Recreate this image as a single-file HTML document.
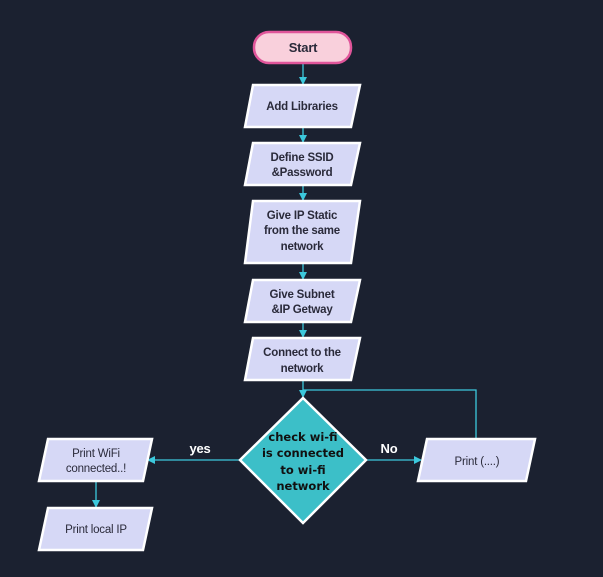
<!DOCTYPE html>
<html><head><style>
html,body{margin:0;padding:0;background:#1b2130;}
svg{display:block}
text{font-family:"Liberation Sans",Arial,sans-serif;font-size:11.5px;fill:#2a2a3a;text-anchor:middle;letter-spacing:-0.2px}
.b{font-weight:bold}
</style></head><body>
<svg width="603" height="577" viewBox="0 0 603 577">
<rect width="603" height="577" fill="#1b2130"/>
<defs><marker id="a" markerWidth="8" markerHeight="8" refX="7" refY="4" orient="auto" markerUnits="userSpaceOnUse"><path d="M0,0 L8,4 L0,8z" fill="#3cc8dc"/></marker></defs>
<g stroke="#3cc8dc" stroke-width="1.3" fill="none">
<line x1="303" y1="63" x2="303" y2="84" marker-end="url(#a)"/>
<line x1="303" y1="127" x2="303" y2="142" marker-end="url(#a)"/>
<line x1="303" y1="185" x2="303" y2="200" marker-end="url(#a)"/>
<line x1="303" y1="263" x2="303" y2="279" marker-end="url(#a)"/>
<line x1="303" y1="322" x2="303" y2="337" marker-end="url(#a)"/>
<line x1="303" y1="380" x2="303" y2="397" marker-end="url(#a)"/>
<polyline points="476,439 476,390 303,390"/>
<line x1="240" y1="460" x2="148" y2="460" marker-end="url(#a)"/>
<line x1="366" y1="460" x2="421" y2="460" marker-end="url(#a)"/>
<line x1="96" y1="481" x2="96" y2="507" marker-end="url(#a)"/>
</g>
<rect x="254" y="32" width="97" height="31" rx="15" fill="#f9d0dc" stroke="#e0559a" stroke-width="2.5"/>
<text x="303" y="52" class="b" style="font-size:13px">Start</text>
<g fill="#d6d8f6" stroke="#fff" stroke-width="2.5">
<polygon points="253,85 360,85 351,127 245,127"/>
<polygon points="253,143 360,143 351,185 245,185"/>
<polygon points="253,201 360,201 351,263 245,263"/>
<polygon points="253,280 360,280 351,322 245,322"/>
<polygon points="253,338 360,338 351,380 245,380"/>
<polygon points="48,439 152,439 143,481 39,481"/>
<polygon points="48,508 152,508 143,550 39,550"/>
<polygon points="427,439 535,439 526,481 418,481"/>
<polygon points="303,398 366,460 303,523 240,460" fill="#3cbfc8"/>
</g>
<text x="302" y="110" class="b">Add Libraries</text>
<text x="302" y="161" class="b">Define SSID</text>
<text x="302" y="176" class="b">&amp;Password</text>
<text x="302" y="219" class="b">Give IP Static</text>
<text x="302" y="234" class="b">from the same</text>
<text x="302" y="250" class="b">network</text>
<text x="302" y="298" class="b">Give Subnet</text>
<text x="302" y="313" class="b">&amp;IP Getway</text>
<text x="302" y="356" class="b">Connect to the</text>
<text x="302" y="372" class="b">network</text>
<text x="96" y="457">Print  WiFi</text>
<text x="96" y="472">connected..!</text>
<text x="96" y="533">Print  local IP</text>
<text x="477" y="465">Print (....)</text>
<text x="303" y="441" class="b" style="font-family:'DejaVu Sans',sans-serif;fill:#111;font-size:11.5px;letter-spacing:0">check wi-fi</text>
<text x="303" y="457" class="b" style="font-family:'DejaVu Sans',sans-serif;fill:#111;font-size:11.5px;letter-spacing:0">is connected</text>
<text x="303" y="474" class="b" style="font-family:'DejaVu Sans',sans-serif;fill:#111;font-size:11.5px;letter-spacing:0">to wi-fi</text>
<text x="303" y="490" class="b" style="font-family:'DejaVu Sans',sans-serif;fill:#111;font-size:11.5px;letter-spacing:0">network</text>
<text x="200" y="453" class="b" style="fill:#fff;font-size:13px">yes</text>
<text x="389" y="453" class="b" style="fill:#fff;font-size:13px">No</text>
</svg>
</body></html>
